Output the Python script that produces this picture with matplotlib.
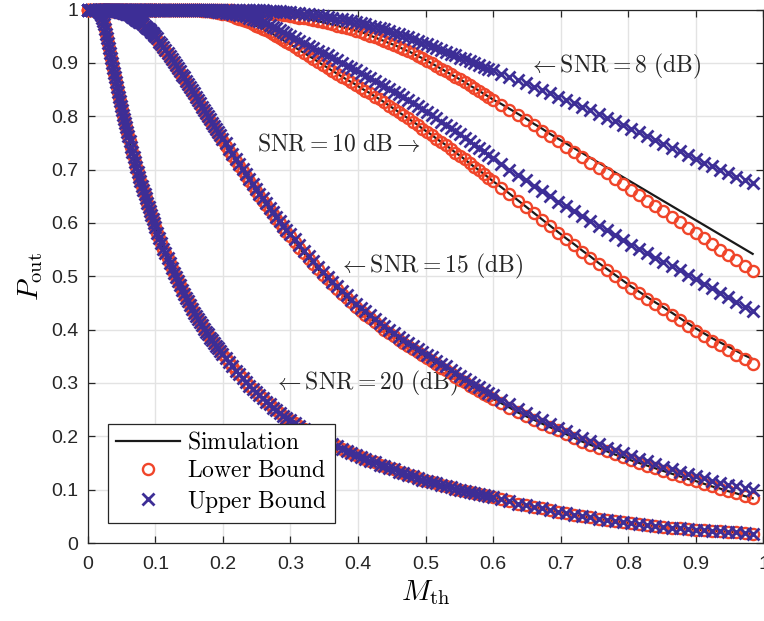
import matplotlib
matplotlib.use("Agg")
import matplotlib.pyplot as plt

plt.rcParams["mathtext.fontset"] = "cm"
plt.rcParams["font.family"] = ["Liberation Sans", "DejaVu Sans"]

# M_th sample points (finer where the curves fall steeply)
m_th = [0, 0.005, 0.01, 0.015,
        0.0165, 0.018, 0.0195, 0.021, 0.0225, 0.024, 0.0255, 0.027, 0.0285, 0.03,
        0.0315, 0.033, 0.0345, 0.036, 0.0375, 0.039, 0.0405, 0.042, 0.0435, 0.045,
        0.0465, 0.048, 0.0495, 0.051, 0.0525, 0.054, 0.0555, 0.057, 0.0585, 0.06,
        0.062, 0.064, 0.066, 0.068, 0.07, 0.072, 0.074, 0.076, 0.078, 0.08,
        0.082, 0.084, 0.086, 0.088, 0.09, 0.092, 0.094, 0.096, 0.098, 0.1,
        0.103, 0.106, 0.109, 0.112, 0.115, 0.118, 0.121, 0.124, 0.127, 0.13,
        0.133, 0.136, 0.139, 0.142, 0.145, 0.148, 0.151, 0.154, 0.157, 0.16,
        0.163, 0.166, 0.169, 0.172, 0.175, 0.178, 0.181, 0.184, 0.187, 0.19,
        0.193, 0.196, 0.199,
        0.204, 0.209, 0.214, 0.219, 0.224, 0.229, 0.234, 0.239, 0.244, 0.249,
        0.254, 0.259, 0.264, 0.269, 0.274, 0.279, 0.284, 0.289, 0.294, 0.299,
        0.306, 0.313, 0.32, 0.327, 0.334, 0.341, 0.348, 0.355, 0.362, 0.369,
        0.376, 0.383, 0.39, 0.397, 0.404, 0.411, 0.418, 0.425, 0.432, 0.439,
        0.446, 0.453, 0.46, 0.467, 0.474, 0.481, 0.488, 0.495, 0.502, 0.509,
        0.516, 0.523, 0.53, 0.537, 0.544, 0.551, 0.558, 0.565, 0.572, 0.579,
        0.586, 0.593, 0.6,
        0.612, 0.624, 0.636, 0.648, 0.66, 0.672, 0.684, 0.696, 0.708, 0.72,
        0.732, 0.744, 0.756, 0.768, 0.78, 0.792, 0.804, 0.816, 0.828, 0.84,
        0.852, 0.864, 0.876, 0.888, 0.9, 0.912, 0.924, 0.936, 0.948, 0.96,
        0.972, 0.984]

# SNR = 20 dB: simulation and both bounds coincide
p_20 = [1.000, 1.000, 0.999, 0.997,
        0.995, 0.993, 0.989, 0.985, 0.979, 0.972, 0.964, 0.955, 0.946, 0.937,
        0.928, 0.918, 0.909, 0.900, 0.891, 0.882, 0.873, 0.864, 0.855, 0.846,
        0.837, 0.829, 0.820, 0.811, 0.803, 0.795, 0.787, 0.779, 0.771, 0.763,
        0.753, 0.743, 0.733, 0.723, 0.714, 0.705, 0.696, 0.687, 0.678, 0.670,
        0.662, 0.654, 0.646, 0.638, 0.630, 0.622, 0.615, 0.607, 0.600, 0.593,
        0.582, 0.572, 0.562, 0.552, 0.543, 0.534, 0.525, 0.516, 0.507, 0.499,
        0.491, 0.483, 0.475, 0.467, 0.460, 0.453, 0.446, 0.439, 0.432, 0.426,
        0.420, 0.414, 0.408, 0.402, 0.396, 0.391, 0.385, 0.380, 0.375, 0.370,
        0.365, 0.360, 0.355,
        0.347, 0.339, 0.331, 0.323, 0.316, 0.309, 0.302, 0.295, 0.289, 0.283,
        0.277, 0.271, 0.265, 0.260, 0.254, 0.249, 0.244, 0.239, 0.235, 0.230,
        0.225, 0.219, 0.214, 0.209, 0.204, 0.199, 0.194, 0.189, 0.185, 0.181,
        0.177, 0.173, 0.169, 0.165, 0.161, 0.157, 0.154, 0.151, 0.147, 0.144,
        0.141, 0.138, 0.134, 0.131, 0.128, 0.125, 0.122, 0.119, 0.117, 0.114,
        0.112, 0.109, 0.107, 0.105, 0.102, 0.100, 0.098, 0.096, 0.094, 0.092,
        0.090, 0.088, 0.086,
        0.082, 0.078, 0.074, 0.071, 0.068, 0.065, 0.062, 0.059, 0.056, 0.053,
        0.050, 0.048, 0.045, 0.043, 0.041, 0.039, 0.037, 0.035, 0.033, 0.032,
        0.030, 0.029, 0.028, 0.026, 0.025, 0.024, 0.023, 0.022, 0.021, 0.020,
        0.018, 0.017]

# SNR = 15 dB
low_15 = [1.000, 1.000, 1.000, 1.000,
          1.000, 1.000, 1.000, 1.000, 1.000, 1.000, 0.999, 0.999, 0.999, 0.999,
          0.999, 0.999, 0.998, 0.998, 0.998, 0.998, 0.997, 0.997, 0.996, 0.996,
          0.995, 0.995, 0.994, 0.994, 0.993, 0.993, 0.992, 0.991, 0.991, 0.990,
          0.988, 0.987, 0.985, 0.983, 0.981, 0.980, 0.978, 0.976, 0.975, 0.973,
          0.971, 0.969, 0.966, 0.964, 0.962, 0.959, 0.956, 0.954, 0.951, 0.948,
          0.943, 0.937, 0.932, 0.927, 0.922, 0.916, 0.910, 0.905, 0.899, 0.893,
          0.887, 0.881, 0.875, 0.870, 0.864, 0.858, 0.852, 0.846, 0.840, 0.834,
          0.828, 0.822, 0.815, 0.809, 0.803, 0.797, 0.791, 0.785, 0.779, 0.773,
          0.767, 0.761, 0.755,
          0.745, 0.735, 0.725, 0.716, 0.706, 0.697, 0.688, 0.678, 0.669, 0.660,
          0.651, 0.642, 0.633, 0.624, 0.616, 0.607, 0.599, 0.591, 0.583, 0.575,
          0.564, 0.553, 0.543, 0.533, 0.523, 0.513, 0.503, 0.494, 0.485, 0.476,
          0.467, 0.459, 0.451, 0.443, 0.435, 0.428, 0.421, 0.414, 0.407, 0.400,
          0.394, 0.388, 0.381, 0.375, 0.369, 0.364, 0.358, 0.352, 0.347, 0.341,
          0.335, 0.329, 0.324, 0.318, 0.312, 0.306, 0.301, 0.295, 0.290, 0.285,
          0.280, 0.275, 0.270,
          0.262, 0.254, 0.245, 0.238, 0.231, 0.224, 0.217, 0.211, 0.204, 0.197,
          0.190, 0.184, 0.178, 0.172, 0.166, 0.161, 0.155, 0.150, 0.145, 0.140,
          0.135, 0.130, 0.125, 0.120, 0.116, 0.111, 0.106, 0.102, 0.097, 0.093,
          0.088, 0.084]
up_15 = [1.000, 1.000, 1.000, 1.000,
         1.000, 1.000, 1.000, 1.000, 1.000, 1.000, 1.000, 1.000, 1.000, 1.000,
         1.000, 1.000, 0.999, 0.999, 0.999, 0.999, 0.998, 0.998, 0.997, 0.997,
         0.996, 0.996, 0.995, 0.995, 0.994, 0.994, 0.993, 0.992, 0.992, 0.991,
         0.989, 0.988, 0.986, 0.984, 0.982, 0.981, 0.979, 0.977, 0.976, 0.974,
         0.972, 0.970, 0.968, 0.966, 0.964, 0.961, 0.958, 0.956, 0.953, 0.950,
         0.946, 0.940, 0.935, 0.930, 0.925, 0.919, 0.913, 0.908, 0.902, 0.896,
         0.890, 0.884, 0.878, 0.873, 0.867, 0.861, 0.855, 0.849, 0.843, 0.837,
         0.831, 0.825, 0.818, 0.812, 0.806, 0.800, 0.794, 0.788, 0.782, 0.776,
         0.770, 0.764, 0.758,
         0.749, 0.739, 0.729, 0.720, 0.710, 0.701, 0.692, 0.682, 0.673, 0.664,
         0.655, 0.646, 0.637, 0.628, 0.620, 0.611, 0.603, 0.595, 0.587, 0.579,
         0.569, 0.558, 0.548, 0.538, 0.528, 0.518, 0.508, 0.499, 0.490, 0.481,
         0.472, 0.464, 0.456, 0.448, 0.441, 0.434, 0.427, 0.420, 0.413, 0.406,
         0.400, 0.394, 0.387, 0.381, 0.375, 0.370, 0.364, 0.358, 0.353, 0.348,
         0.342, 0.336, 0.331, 0.325, 0.319, 0.313, 0.308, 0.302, 0.297, 0.292,
         0.287, 0.282, 0.277,
         0.269, 0.260, 0.252, 0.244, 0.237, 0.230, 0.223, 0.216, 0.210, 0.203,
         0.197, 0.191, 0.185, 0.179, 0.174, 0.168, 0.163, 0.158, 0.153, 0.148,
         0.143, 0.139, 0.134, 0.130, 0.125, 0.121, 0.117, 0.113, 0.109, 0.106,
         0.103, 0.100]

# SNR = 10 dB
low_10 = [1.000] * 54 + [
          1.000, 1.000, 1.000, 1.000, 1.000, 1.000, 1.000, 1.000, 1.000, 1.000,
          1.000, 1.000, 1.000, 1.000, 1.000, 1.000, 1.000, 1.000, 0.999, 0.999,
          0.999, 0.999, 0.998, 0.998, 0.998, 0.997, 0.997, 0.996, 0.996, 0.995,
          0.994, 0.993, 0.992,
          0.991, 0.989, 0.987, 0.985, 0.983, 0.981, 0.979, 0.976, 0.973, 0.970,
          0.967, 0.964, 0.961, 0.958, 0.954, 0.951, 0.947, 0.943, 0.939, 0.935,
          0.930, 0.924, 0.919, 0.913, 0.908, 0.902, 0.896, 0.891, 0.885, 0.880,
          0.874, 0.869, 0.864, 0.859, 0.853, 0.848, 0.843, 0.837, 0.832, 0.826,
          0.820, 0.814, 0.808, 0.802, 0.796, 0.790, 0.784, 0.777, 0.771, 0.765,
          0.758, 0.752, 0.746, 0.739, 0.732, 0.726, 0.719, 0.712, 0.705, 0.699,
          0.692, 0.685, 0.678,
          0.666, 0.654, 0.642, 0.630, 0.618, 0.606, 0.594, 0.582, 0.570, 0.558,
          0.546, 0.535, 0.523, 0.512, 0.500, 0.489, 0.478, 0.468, 0.458, 0.448,
          0.438, 0.428, 0.418, 0.407, 0.397, 0.388, 0.379, 0.371, 0.362, 0.353,
          0.344, 0.336]
up_10 = [1.000] * 54 + [
         1.000, 1.000, 1.000, 1.000, 1.000, 1.000, 1.000, 1.000, 1.000, 1.000,
         1.000, 1.000, 1.000, 1.000, 1.000, 1.000, 1.000, 1.000, 1.000, 1.000,
         1.000, 1.000, 0.999, 0.999, 0.999, 0.999, 0.998, 0.998, 0.997, 0.997,
         0.996, 0.996, 0.995,
         0.994, 0.993, 0.992, 0.991, 0.990, 0.989, 0.987, 0.985, 0.983, 0.981,
         0.979, 0.977, 0.974, 0.971, 0.968, 0.965, 0.961, 0.958, 0.954, 0.950,
         0.946, 0.941, 0.937, 0.932, 0.928, 0.923, 0.919, 0.914, 0.909, 0.905,
         0.900, 0.895, 0.891, 0.886, 0.881, 0.876, 0.871, 0.866, 0.861, 0.856,
         0.851, 0.846, 0.841, 0.836, 0.830, 0.825, 0.819, 0.814, 0.808, 0.802,
         0.796, 0.790, 0.784, 0.778, 0.772, 0.766, 0.759, 0.753, 0.747, 0.741,
         0.734, 0.728, 0.722,
         0.711, 0.700, 0.690, 0.680, 0.670, 0.660, 0.650, 0.640, 0.631, 0.622,
         0.613, 0.604, 0.595, 0.586, 0.577, 0.568, 0.559, 0.551, 0.543, 0.535,
         0.527, 0.519, 0.511, 0.503, 0.495, 0.486, 0.478, 0.469, 0.461, 0.452,
         0.443, 0.435]
# simulation sits on the lower bound until the tail
sim_10_tail = [0.667, 0.655, 0.643, 0.631, 0.619, 0.607, 0.595, 0.583, 0.571, 0.560,
               0.548, 0.537, 0.525, 0.514, 0.503, 0.492, 0.481, 0.471, 0.461, 0.451,
               0.442, 0.432, 0.422, 0.412, 0.402, 0.393, 0.384, 0.376, 0.368, 0.360,
               0.352, 0.345]

# SNR = 8 dB
low_8 = [1.000] * 87 + [
         0.999, 0.999, 0.999, 0.998, 0.998, 0.997, 0.997, 0.996, 0.996, 0.995,
         0.995, 0.994, 0.993, 0.993, 0.992, 0.991, 0.991, 0.990, 0.989, 0.988,
         0.986, 0.985, 0.984, 0.982, 0.980, 0.978, 0.976, 0.974, 0.972, 0.970,
         0.967, 0.965, 0.963, 0.960, 0.958, 0.955, 0.951, 0.948, 0.944, 0.941,
         0.937, 0.934, 0.930, 0.926, 0.922, 0.918, 0.913, 0.909, 0.904, 0.899,
         0.894, 0.889, 0.884, 0.879, 0.874, 0.869, 0.864, 0.858, 0.853, 0.848,
         0.842, 0.837, 0.831,
         0.822, 0.812, 0.803, 0.793, 0.783, 0.773, 0.763, 0.753, 0.743, 0.733,
         0.723, 0.713, 0.703, 0.693, 0.683, 0.673, 0.662, 0.652, 0.642, 0.632,
         0.622, 0.612, 0.602, 0.591, 0.581, 0.571, 0.561, 0.550, 0.540, 0.530,
         0.520, 0.510]
up_8 = [1.000] * 95 + [
        0.999, 0.999, 0.999, 0.999, 0.998, 0.998, 0.998, 0.997, 0.997, 0.996,
        0.996, 0.995,
        0.994, 0.993, 0.992, 0.991, 0.990, 0.989, 0.988, 0.986, 0.985, 0.983,
        0.982, 0.980, 0.978, 0.976, 0.974, 0.972, 0.970, 0.968, 0.965, 0.963,
        0.960, 0.957, 0.954, 0.951, 0.948, 0.945, 0.941, 0.938, 0.935, 0.931,
        0.928, 0.924, 0.921, 0.917, 0.914, 0.910, 0.907, 0.903, 0.900, 0.896,
        0.893, 0.889, 0.886,
        0.880, 0.874, 0.868, 0.862, 0.855, 0.849, 0.843, 0.837, 0.830, 0.824,
        0.817, 0.811, 0.804, 0.797, 0.791, 0.784, 0.777, 0.770, 0.763, 0.756,
        0.748, 0.741, 0.734, 0.727, 0.720, 0.713, 0.707, 0.700, 0.694, 0.687,
        0.681, 0.675]
sim_8_tail = [0.823, 0.814, 0.805, 0.796, 0.786, 0.777, 0.767, 0.758, 0.749, 0.740,
              0.731, 0.722, 0.713, 0.704, 0.695, 0.686, 0.677, 0.668, 0.659, 0.650,
              0.641, 0.632, 0.623, 0.614, 0.605, 0.596, 0.587, 0.578, 0.569, 0.560,
              0.551, 0.542]

n_head = len(m_th) - len(sim_10_tail)
sim_10 = low_10[:n_head] + sim_10_tail
sim_8 = low_8[:n_head] + sim_8_tail

curves = [(sim_8, low_8, up_8), (sim_10, low_10, up_10),
          (low_15, low_15, up_15), (p_20, p_20, p_20)]

red = "#F0452A"
blue = "#3D2E96"
axcol = "#262626"

fig = plt.figure(figsize=(7.64, 6.21), dpi=100)
ax = fig.add_axes([0.1149, 0.1256, 0.8844, 0.859])

for k, (s, lo, up) in enumerate(curves):
    ax.plot(m_th, s, "-", color="#1a1a1a", lw=1.6, clip_on=False,
            label=r"$\mathrm{Simulation}$" if k == 0 else None, zorder=3)
    ax.plot(m_th, lo, "o", ms=8, mfc="none", mec=red, mew=1.7, clip_on=False,
            label=r"$\mathrm{Lower\ Bound}$" if k == 0 else None, zorder=4)
    ax.plot(m_th, up, "x", ms=8, color=blue, mew=2.0, clip_on=False,
            label=r"$\mathrm{Upper\ Bound}$" if k == 0 else None, zorder=5)

ax.set_xlim(0, 1)
ax.set_ylim(0, 1)
ticks = [0, 0.1, 0.2, 0.3, 0.4, 0.5, 0.6, 0.7, 0.8, 0.9, 1]
tick_labels = ["0", "0.1", "0.2", "0.3", "0.4", "0.5", "0.6", "0.7", "0.8", "0.9", "1"]
ax.set_xticks(ticks)
ax.set_xticklabels(tick_labels)
ax.set_yticks(ticks)
ax.set_yticklabels(tick_labels)
ax.grid(True, color="#e3e3e3", lw=1.0, zorder=0)
ax.set_axisbelow(True)
ax.tick_params(direction="in", top=True, right=True, length=5, width=0.9,
               colors=axcol, labelsize=14)
ax.tick_params(axis="x", pad=9)
ax.tick_params(axis="y", pad=7)
for sp in ax.spines.values():
    sp.set_color(axcol)
    sp.set_linewidth(0.9)

ax.set_xlabel(r"$M_{\mathrm{th}}$", fontsize=21, labelpad=4)
ax.set_ylabel(r"$P_{\mathrm{out}}$", fontsize=21, labelpad=4)

txt = dict(fontsize=17, color="#262626", va="center")
ax.text(0.651, 0.893, r"$\leftarrow \mathrm{SNR} = 8\ (\mathrm{dB})$", ha="left", **txt)
ax.text(0.25, 0.747, r"$\mathrm{SNR} = 10\ \mathrm{dB} \rightarrow$", ha="left", **txt)
ax.text(0.37, 0.518, r"$\leftarrow \mathrm{SNR} = 15\ (\mathrm{dB})$", ha="left", **txt)
ax.text(0.274, 0.30, r"$\leftarrow \mathrm{SNR} = 20\ (\mathrm{dB})$", ha="left", **txt)

leg = ax.legend(loc="lower left", bbox_to_anchor=(0.03, 0.0375), borderaxespad=0,
                fontsize=17, fancybox=False, framealpha=1, edgecolor=axcol,
                handlelength=2.7, labelspacing=0.25, borderpad=0.35,
                handletextpad=0.3)
leg.get_frame().set_linewidth(0.9)
leg.set_zorder(10)

fig.savefig("out.png", dpi=100)
